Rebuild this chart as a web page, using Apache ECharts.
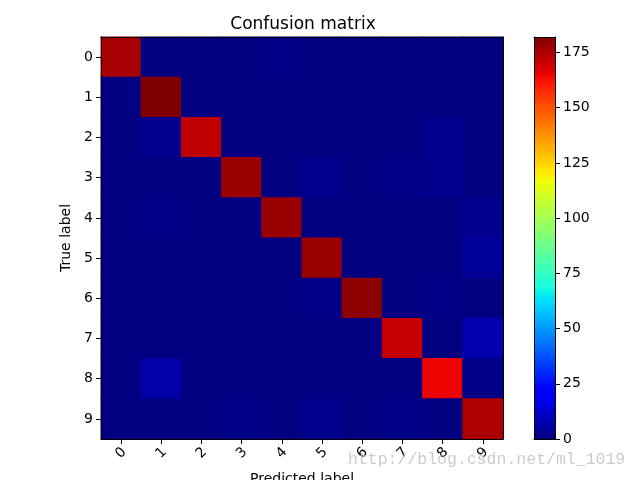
<!DOCTYPE html>
<html><head><meta charset="utf-8">
<script src="https://cdn.jsdelivr.net/npm/echarts@6/dist/echarts.min.js"></script>
<style>html,body{margin:0;padding:0;background:#fff}#c{width:640px;height:480px}</style>
</head><body><div id="c"></div>
<script>
const classes = ['0','1','2','3','4','5','6','7','8','9'];
const row0 = [176,0,0,0,1,0,0,0,0,0];
const row1 = [0,182,0,0,0,0,0,0,0,0];
const row2 = [0,2,172,0,0,0,0,0,2,0];
const row3 = [0,0,0,178,0,2,0,1,2,0];
const row4 = [0,1,0,0,178,0,0,0,0,2];
const row5 = [0,0,0,0,0,178,0,0,0,4];
const row6 = [0,0,0,0,0,1,180,0,1,0];
const row7 = [0,0,0,0,0,0,0,171,0,7];
const row8 = [0,6,0,0,0,0,0,0,165,1];
const row9 = [0,0,0,1,0,2,0,1,0,175];
const cbMin = 0, cbMax = 182;
const cbTicks = [0,25,50,75,100,125,150,175];

const rows = [row0,row1,row2,row3,row4,row5,row6,row7,row8,row9];
const data = [];
rows.forEach((r, yi) => r.forEach((v, xi) => data.push([xi, yi, v])));

// matplotlib 'jet' segment data
function seg(pts, t){
  for (let i = 1; i < pts.length; i++){
    if (t <= pts[i][0]){
      const a = pts[i-1], b = pts[i];
      return a[1] + (b[1]-a[1]) * (t - a[0]) / (b[0]-a[0]);
    }
  }
  return pts[pts.length-1][1];
}
const R = [[0,0],[0.35,0],[0.66,1],[0.89,1],[1,0.5]];
const G = [[0,0],[0.125,0],[0.375,1],[0.64,1],[0.91,0],[1,0]];
const B = [[0,0.5],[0.11,1],[0.34,1],[0.65,0],[1,0]];
function jet(t){
  const c = v => Math.round(255*Math.max(0,Math.min(1,v)));
  return 'rgb(' + c(seg(R,t)) + ',' + c(seg(G,t)) + ',' + c(seg(B,t)) + ')';
}
const N = 100;
const jetColors = [], jetStops = [];
for (let i = 0; i <= N; i++){ jetColors.push(jet(i/N)); jetStops.push({offset: i/N, color: jet(i/N)}); }

const font = 'DejaVu Sans';
const lineStyle = {color:'#000', width:1};
const chart = echarts.init(document.getElementById('c'));
chart.setOption({
  animation: false,
  backgroundColor: '#fff',
  textStyle: {fontFamily: font},
  title: {text: 'Confusion matrix', left: 298, top: 11, textAlign: 'center',
    textStyle: {fontFamily: font, fontSize: 17, fontWeight: 'normal', color: '#000'}},
  grid: [
    {left: 101, top: 37, width: 402, height: 402, containLabel: false, outerBoundsMode: 'none'},
    {left: 534, top: 37, width: 21, height: 402, containLabel: false, outerBoundsMode: 'none'}
  ],
  xAxis: [
    {type: 'category', data: classes, gridIndex: 0, position: 'bottom', z: 10,
     name: 'Predicted label', nameLocation: 'middle', nameGap: 33,
     nameTextStyle: {color: '#000', fontSize: 14, fontFamily: font},
     axisLine: {show: true, lineStyle: lineStyle},
     axisTick: {show: true, alignWithLabel: true, length: 5, lineStyle: lineStyle},
     axisLabel: {color: '#000', fontSize: 14, rotate: 45, margin: 14, align: 'center', verticalAlign: 'middle', fontFamily: font},
     splitLine: {show: false}},
    {type: 'category', data: classes, gridIndex: 0, position: 'top', z: 10,
     axisLine: {show: true, lineStyle: lineStyle}, axisTick: {show: false}, axisLabel: {show: false}},
    {type: 'value', min: 0, max: 1, gridIndex: 1, position: 'bottom', z: 10,
     axisLine: {show: true, onZero: false, lineStyle: lineStyle}, axisTick: {show: false}, axisLabel: {show: false}, splitLine: {show: false}},
    {type: 'value', min: 0, max: 1, gridIndex: 1, position: 'top', z: 10,
     axisLine: {show: true, onZero: false, lineStyle: lineStyle}, axisTick: {show: false}, axisLabel: {show: false}, splitLine: {show: false}}
  ],
  yAxis: [
    {type: 'category', data: classes, gridIndex: 0, inverse: true, position: 'left', z: 10,
     name: 'True label', nameLocation: 'middle', nameGap: 23, nameRotate: 90,
     nameTextStyle: {color: '#000', fontSize: 14, fontFamily: font},
     axisLine: {show: true, lineStyle: lineStyle},
     axisTick: {show: true, alignWithLabel: true, length: 5, lineStyle: lineStyle},
     axisLabel: {color: '#000', fontSize: 14, margin: 8, fontFamily: font},
     splitLine: {show: false}},
    {type: 'category', data: classes, gridIndex: 0, inverse: true, position: 'right', z: 10,
     axisLine: {show: true, lineStyle: lineStyle}, axisTick: {show: false}, axisLabel: {show: false}},
    {type: 'value', min: cbMin, max: cbMax, gridIndex: 1, position: 'right', z: 10,
     axisLine: {show: true, onZero: false, lineStyle: lineStyle},
     axisTick: {show: true, length: 5, lineStyle: lineStyle, customValues: cbTicks},
     axisLabel: {color: '#000', fontSize: 14, margin: 8, fontFamily: font, customValues: cbTicks},
     splitLine: {show: false}},
    {type: 'value', min: cbMin, max: cbMax, gridIndex: 1, position: 'left', z: 10,
     axisLine: {show: true, onZero: false, lineStyle: lineStyle}, axisTick: {show: false}, axisLabel: {show: false}, splitLine: {show: false}}
  ],
  visualMap: {
    show: false, seriesIndex: 0, min: cbMin, max: cbMax, dimension: 2,
    inRange: {color: jetColors}
  },
  series: [
    {type: 'custom', xAxisIndex: 0, yAxisIndex: 0, data: data, z: 1,
     encode: {x: 0, y: 1},
     renderItem: function(params, api){
       const c = api.coord([api.value(0), api.value(1)]);
       const s = api.size([1, 1]);
       return {type: 'rect',
         shape: {x: c[0] - s[0]/2 - 0.5, y: c[1] - s[1]/2 - 0.5, width: s[0] + 1, height: s[1] + 1},
         style: {fill: api.visual('color')}};
     }},
    {type: 'custom', xAxisIndex: 2, yAxisIndex: 2, data: [[0, cbMin]], z: 1,
     renderItem: function(params, api){
       const p0 = api.coord([0, cbMin]);
       const p1 = api.coord([1, cbMax]);
       return {type: 'rect',
         shape: {x: p0[0], y: p1[1], width: p1[0]-p0[0], height: p0[1]-p1[1]},
         style: {fill: new echarts.graphic.LinearGradient(0, 1, 0, 0, jetStops)}};
     }}
  ],
  graphic: [
    {type: 'text', left: 348, top: 451, z: 100,
     style: {text: 'http://blog.csdn.net/ml_1019', font: '16.5px "Liberation Mono"', fill: 'rgba(185,185,185,0.75)'}}
  ]
});
</script>
</body></html>
